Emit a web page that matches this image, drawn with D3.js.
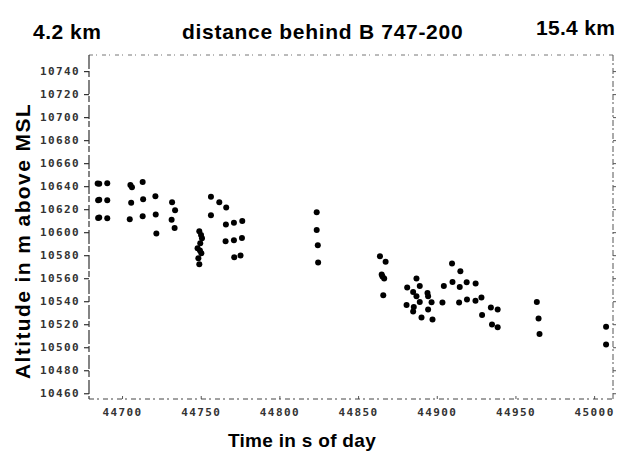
<!DOCTYPE html>
<html>
<head>
<meta charset="utf-8">
<script src="https://cdn.jsdelivr.net/npm/d3@7"></script>
<style>
  body { margin: 0; background: #fff; }
  svg { display: block; }
</style>
</head>
<body>
<div id="chart"></div>
<script>
// time of day (s) and altitude (m above MSL) of each measured point
const times = [
  44684.5, 44684.8, 44684.8, 44685.5, 44685.5, 44685.5, 44690.6, 44690.6, 44690.6,
  44705.3, 44705.8, 44704.9, 44706.3, 44713.1, 44713.4, 44713.1, 44721.2, 44721.4, 44721.8,
  44731.8, 44733.7, 44731.5, 44733.4,
  44749.1, 44750.8, 44748.0, 44750.4, 44749.1, 44749.7, 44748.5, 44750.2, 44749.5,
  44756.5, 44761.8, 44766.2, 44756.5, 44766.0, 44771.1, 44776.4, 44765.8, 44771.1, 44776.2,
  44771.3, 44775.3,
  44823.7, 44823.7, 44824.4, 44824.6,
  44863.9, 44867.5, 44865.0, 44866.6, 44866.0, 44865.5,
  44881.2, 44885.0, 44887.1, 44889.2, 44887.1, 44894.1, 44894.5, 44880.8, 44885.4, 44889.2,
  44896.7, 44885.0, 44894.5, 44890.3, 44897.3, 44903.6,
  44904.5, 44909.7, 44910.0, 44915.0, 44914.6, 44919.0, 44924.7, 44914.2, 44919.2, 44924.6,
  44928.4, 44934.4, 44938.7, 44928.8, 44935.1, 44938.7,
  44963.6, 44964.7, 44965.3,
  45007.6, 45007.6
];
const altitudes = [
  10642.3, 10627.8, 10612.4, 10642.0, 10628.2, 10612.8, 10642.6, 10627.8, 10612.2,
  10640.9, 10625.5, 10611.3, 10639.0, 10643.7, 10628.7, 10613.9, 10631.3, 10615.4, 10598.9,
  10626.1, 10619.1, 10610.7, 10603.7,
  10600.9, 10594.8, 10586.1, 10581.7, 10572.2, 10590.4, 10577.4, 10597.5, 10584.0,
  10630.7, 10626.1, 10621.5, 10614.8, 10606.7, 10608.1, 10609.8, 10592.2, 10593.0, 10595.0,
  10578.3, 10579.7,
  10617.4, 10602.0, 10588.7, 10573.7,
  10579.1, 10574.2, 10563.2, 10559.7, 10545.2, 10561.5,
  10551.9, 10548.1, 10559.7, 10553.3, 10544.3, 10547.2, 10544.3, 10536.8, 10535.0, 10539.4,
  10539.1, 10531.0, 10532.8, 10525.8, 10524.1, 10538.9,
  10553.3, 10572.8, 10556.8, 10566.1, 10552.4, 10556.5, 10555.4, 10538.9, 10541.5, 10540.3,
  10543.2, 10534.5, 10532.8, 10528.1, 10519.7, 10517.4,
  10539.4, 10525.0, 10511.6,
  10517.7, 10502.3
];
const xTicks = [44700, 44750, 44800, 44850, 44900, 44950, 45000];
const yTicks = [10460, 10480, 10500, 10520, 10540, 10560, 10580, 10600, 10620, 10640, 10660, 10680, 10700, 10720, 10740];

const width = 620;
const height = 455;
const frame = { left: 89, right: 613, top: 55, bottom: 399 };

const x = d3.scaleLinear().domain([44679, 45012]).range([frame.left, frame.right]);
const y = d3.scaleLinear().domain([10455, 10754]).range([frame.bottom, frame.top]);

const svg = d3.select("#chart").append("svg")
  .attr("width", width)
  .attr("height", height);

// frame: top, right and bottom edges look scanned and broken
svg.append("line")
  .attr("x1", frame.left).attr("x2", frame.right)
  .attr("y1", frame.top).attr("y2", frame.top)
  .attr("stroke", "#777").attr("stroke-width", 1)
  .attr("stroke-dasharray", "4,3,1,5");
svg.append("line")
  .attr("x1", frame.right).attr("x2", frame.right)
  .attr("y1", frame.top).attr("y2", frame.bottom)
  .attr("stroke", "#555").attr("stroke-width", 1)
  .attr("stroke-dasharray", "6,2,2,3");

const tickFont = g => g.selectAll("text")
  .attr("font-family", "'DejaVu Sans Mono', monospace")
  .attr("font-size", 11)
  .attr("font-weight", "bold")
  .attr("letter-spacing", 1.4)
  .attr("fill", "#333");

const yAxis = svg.append("g")
  .attr("transform", `translate(${frame.left},0)`)
  .call(d3.axisLeft(y).tickValues(yTicks).tickSize(5).tickPadding(4).tickFormat(d3.format("d")))
  .call(tickFont);
yAxis.select(".domain").remove();
yAxis.selectAll("line").attr("stroke", "#333").attr("stroke-width", 1.2);
svg.append("line")
  .attr("x1", frame.left).attr("x2", frame.left)
  .attr("y1", frame.top).attr("y2", frame.bottom)
  .attr("stroke", "#333").attr("stroke-width", 1.2)
  .attr("stroke-dasharray", "14,2,6,3");

// small ticks on the right edge
svg.append("g")
  .attr("transform", `translate(${frame.right},0)`)
  .call(d3.axisRight(y).tickValues(yTicks).tickSize(3).tickFormat(""))
  .call(g => g.select(".domain").remove())
  .selectAll("line").attr("stroke", "#555");

const xAxis = svg.append("g")
  .attr("transform", `translate(0,${frame.bottom})`)
  .call(d3.axisBottom(x).tickValues(xTicks).tickSize(-3).tickPadding(9).tickFormat(d3.format("d")))
  .call(tickFont);
xAxis.select(".domain").remove();
xAxis.selectAll("line").attr("stroke", "#555");
svg.append("line")
  .attr("x1", frame.left).attr("x2", frame.right)
  .attr("y1", frame.bottom).attr("y2", frame.bottom)
  .attr("stroke", "#444").attr("stroke-width", 1)
  .attr("stroke-dasharray", "5,3,2,4");

// points
svg.append("g")
  .selectAll("circle")
  .data(d3.zip(times, altitudes))
  .enter()
  .append("circle")
  .attr("cx", d => x(d[0]))
  .attr("cy", d => y(d[1]))
  .attr("r", 3)
  .attr("fill", "#000");

// titles
const title = (txt, tx, ty, size, spacing) => svg.append("text")
  .attr("x", tx).attr("y", ty)
  .attr("font-family", "'Liberation Sans', Arial, sans-serif")
  .attr("font-size", size)
  .attr("font-weight", "bold")
  .attr("letter-spacing", spacing)
  .attr("fill", "#000")
  .text(txt);

title("4.2 km", 33, 39, 21, 0.5);
title("distance behind B 747-200", 182, 39, 21, 0.7);
title("15.4 km", 536, 35, 21, 0.3);
title("Time in s of day", 302, 447, 19, 0.3).attr("text-anchor", "middle");
title("Altitude in m above MSL", 0, 0, 21, 1.4)
  .attr("text-anchor", "middle")
  .attr("transform", "translate(30,241) rotate(-90)");
</script>
</body>
</html>
